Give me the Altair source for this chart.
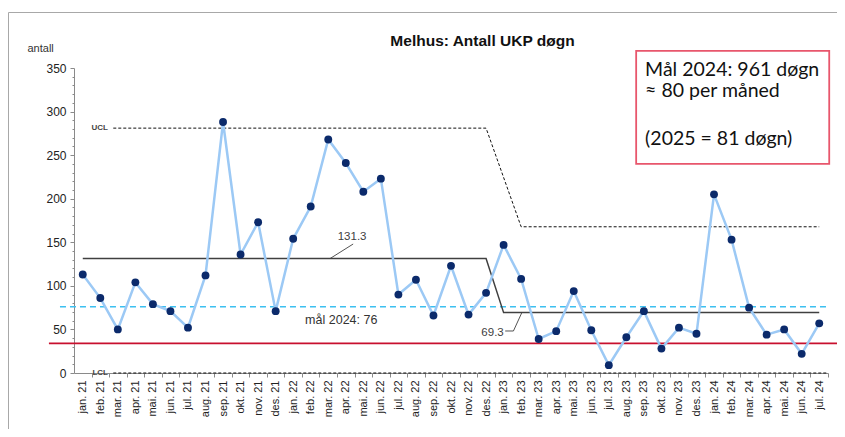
import altair as alt
import pandas as pd

# ---------------- data ----------------
months = [
    "jan. 21", "feb. 21", "mar. 21", "apr. 21", "mai. 21", "jun. 21",
    "jul. 21", "aug. 21", "sep. 21", "okt. 21", "nov. 21", "des. 21",
    "jan. 22", "feb. 22", "mar. 22", "apr. 22", "mai. 22", "jun. 22",
    "jul. 22", "aug. 22", "sep. 22", "okt. 22", "nov. 22", "des. 22",
    "jan. 23", "feb. 23", "mar. 23", "apr. 23", "mai. 23", "jun. 23",
    "jul. 23", "aug. 23", "sep. 23", "okt. 23", "nov. 23", "des. 23",
    "jan. 24", "feb. 24", "mar. 24", "apr. 24", "mai. 24", "jun. 24",
    "jul. 24",
]
values = [
    113, 86, 50, 104, 79, 71, 52, 112, 288, 136, 173, 71,
    154, 191, 268, 241, 208, 223, 90, 107, 66, 123, 67, 92,
    147, 108, 39, 48, 94, 49, 9, 41, 71, 28, 52, 45,
    205, 153, 75, 44, 50, 22, 57,
]

title_text = "Melhus: Antall UKP døgn"

# control lines (month index, value)
center_x = [0, 23, 24, 42]
center_y = [131.3, 131.3, 69.3, 69.3]
ucl_x = [1.74, 23, 25, 42]
ucl_y = [281, 281, 167.8, 167.8]
lcl_x = [1.74, 42.5]
lcl_y = [0, 0]

goal_x = [-1.3, 42.45]
goal_y = [76, 76]
red_x = [-1.93, 43.6]
red_y = [34, 34]

# annotation texts
small_labels = ["UCL", "LCL"]
small_x = [1.44, 1.44]
small_y = [281, 0]

cl_labels = ["131.3", "69.3"]
cl_label_x = [15.36, 23.37]
cl_label_y = [152.6, 42.1]

goal_label = ["mål 2024: 76"]
goal_label_x = [12.68]
goal_label_y = [56.8]

leader1_x = [14.1, 15.42]
leader1_y = [131.3, 148.0]
leader2_x = [24.09, 24.56, 25.04]
leader2_y = [48.2, 48.2, 69.3]

box_x = [31.56]
box_x2 = [42.57]
box_y = [369.6]
box_y2 = [240.0]
box_lines = ["Mål 2024: 961 døgn", "≈ 80 per måned", "(2025 = 81 døgn)"]
box_line_x = [32.07, 32.07, 32.07]
box_line_y = [341.0, 317.0, 262.0]

# ---------------- chart ----------------
W, H = 754, 305

xscale = alt.Scale(domain=[-0.5, 42.5], nice=False, zero=False)
yscale = alt.Scale(domain=[0, 350], nice=False, zero=True)

label_expr = "[" + ",".join("'" + m + "'" for m in months) + "][datum.value]"
step = W / 43.0

xaxis = alt.Axis(
    values=list(range(43)), labelExpr=label_expr, labelAngle=270,
    labelAlign="right", labelBaseline="middle", labelFontSize=11,
    labelFont="Liberation Sans", labelColor="#222222", labelOverlap=False,
    labelPadding=3, tickSize=4, tickColor="#8a8a8a", domainColor="#8a8a8a",
    tickOffset=step / 2, labelOffset=-step / 2, grid=False, title=None,
)
yaxis = alt.Axis(
    values=list(range(0, 351, 10)),
    labelExpr="datum.value % 50 === 0 ? datum.label : ''",
    tickSize={"condition": {"test": "datum.value % 50 === 0", "value": 4}, "value": 2},
    tickColor="#8a8a8a", domainColor="#8a8a8a", labelFontSize=12,
    labelFont="Liberation Sans", labelColor="#222222", labelPadding=4,
    grid=False, title="antall", titleAngle=0, titleAlign="left",
    titleBaseline="alphabetic", titleX=-47, titleY=-17, titleFontSize=11,
    titleFont="Liberation Sans", titleFontWeight="normal", titleColor="#333333",
)

X = alt.X("x:Q", scale=xscale, axis=xaxis)
Y = alt.Y("y:Q", scale=yscale, axis=yaxis)

df = pd.DataFrame({"x": list(range(len(values))), "y": values, "month": months})


def line_df(xs, ys):
    return pd.DataFrame({"x": xs, "y": ys})


frame = alt.Chart(pd.DataFrame({"a": [0]})).mark_rect(
    fill=None, stroke="#a8a8a8", strokeWidth=1
).encode(
    x=alt.value(-65.5), x2=alt.value(W + 40), y=alt.value(-55.5), y2=alt.value(H + 80)
)

title = alt.Chart(pd.DataFrame({"t": [title_text]})).mark_text(
    align="center", baseline="alphabetic", fontSize=15.5, fontWeight="bold",
    font="Liberation Sans", color="#111111"
).encode(x=alt.value(408.5), y=alt.value(-22), text="t:N")

red = alt.Chart(line_df(red_x, red_y)).mark_line(
    color="#C8102E", strokeWidth=1.6, clip=False
).encode(x=X, y=Y)

goal = alt.Chart(line_df(goal_x, goal_y)).mark_line(
    color="#3CC0F0", strokeWidth=1.6, strokeDash=[6, 4], clip=False
).encode(x=X, y=Y)

ucl = alt.Chart(line_df(ucl_x, ucl_y)).mark_line(
    color="#111111", strokeWidth=1, strokeDash=[3, 2]
).encode(x=X, y=Y)

lcl = alt.Chart(line_df(lcl_x, lcl_y)).mark_line(
    color="#111111", strokeWidth=1, strokeDash=[3, 2]
).encode(x=X, y=Y)

center = alt.Chart(line_df(center_x, center_y)).mark_line(
    color="#404040", strokeWidth=1.5
).encode(x=X, y=Y)

series_line = alt.Chart(df).mark_line(
    color="#9CC9F5", strokeWidth=2.5
).encode(x=X, y=Y)

series_pts = alt.Chart(df).mark_circle(
    color="#0B2A6B", size=62, opacity=1
).encode(x=X, y=Y, tooltip=["month", "y"])

small_txt = alt.Chart(pd.DataFrame({"x": small_x, "y": small_y, "t": small_labels})).mark_text(
    align="right", baseline="middle", fontSize=8, fontWeight="bold",
    font="Liberation Sans", color="#444444", clip=False
).encode(x=X, y=Y, text="t:N")

cl_txt = alt.Chart(pd.DataFrame({"x": cl_label_x, "y": cl_label_y, "t": cl_labels})).mark_text(
    align="center", baseline="alphabetic", fontSize=11.5,
    font="Liberation Sans", color="#404040"
).encode(x=X, y=Y, text="t:N")

goal_txt = alt.Chart(pd.DataFrame({"x": goal_label_x, "y": goal_label_y, "t": goal_label})).mark_text(
    align="left", baseline="alphabetic", fontSize=12.5,
    font="Liberation Sans", color="#333333"
).encode(x=X, y=Y, text="t:N")

leader1 = alt.Chart(line_df(leader1_x, leader1_y)).mark_line(
    color="#404040", strokeWidth=0.9
).encode(x=X, y=Y)
leader2 = alt.Chart(line_df(leader2_x, leader2_y)).mark_line(
    color="#404040", strokeWidth=0.9
).encode(x=X, y=Y)

box = alt.Chart(pd.DataFrame({"x": box_x, "x2": box_x2, "y": box_y, "y2": box_y2})).mark_rect(
    fill="white", stroke="#E8566C", strokeWidth=1.8, clip=False
).encode(x=X, x2="x2:Q", y=Y, y2="y2:Q")

box_txt = alt.Chart(pd.DataFrame({"x": box_line_x, "y": box_line_y, "t": box_lines})).mark_text(
    align="left", baseline="alphabetic", fontSize=19.5, font="Lato",
    color="#111111", clip=False
).encode(x=X, y=Y, text="t:N")

chart = alt.layer(
    frame, title, red, goal, lcl, ucl, center, series_line, series_pts,
    small_txt, cl_txt, goal_txt, leader1, leader2, box, box_txt,
).properties(
    width=W, height=H,
    autosize=alt.AutoSizeParams(type="none"),
    padding={"left": 66, "top": 60, "right": 9, "bottom": 56},
).configure_view(stroke=None)

chart.save("out.html", embed_options={"renderer": "svg", "actions": False})
